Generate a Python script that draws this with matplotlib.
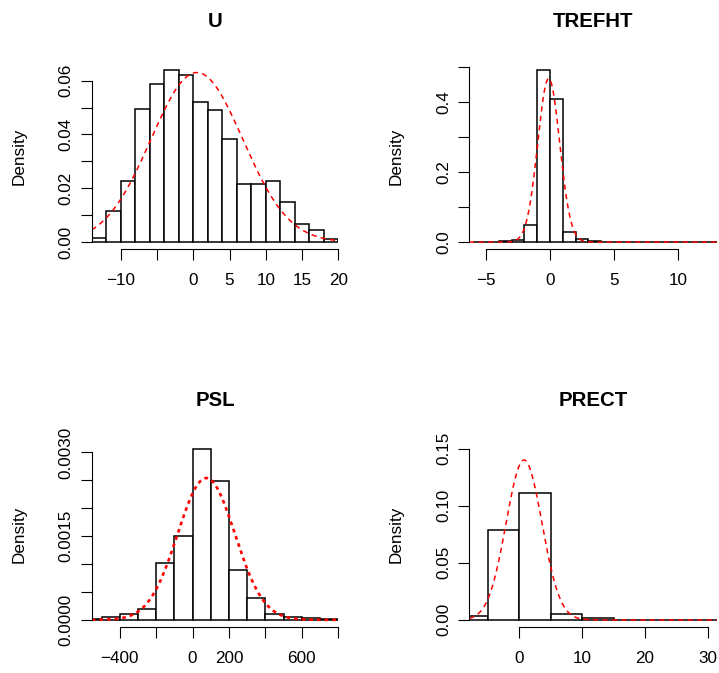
import matplotlib.pyplot as plt
import numpy as np

plt.rcParams['font.family'] = ['Liberation Sans', 'DejaVu Sans']

# histogram densities per bin, with the normal fit (mean, sd) for each variable
u_breaks = np.arange(-14, 21, 2)
u_density = [0.0017, 0.0115, 0.0226, 0.0495, 0.0589, 0.0639, 0.0620, 0.0520, 0.0490,
             0.0384, 0.0217, 0.0215, 0.0226, 0.0149, 0.0069, 0.0045, 0.0011]
u_fit = (0.5, 6.33)

trefht_breaks = np.arange(-6, 14, 1)
trefht_density = [0.0003, 0.0008, 0.0030, 0.0050, 0.0486, 0.4905, 0.4095, 0.0277, 0.0076,
                  0.0025, 0.0010, 0.0006, 0.0004, 0.0003, 0.0002, 0.0003, 0.0002, 0.0001, 0.0002]
trefht_fit = (-0.1, 0.855)

psl_breaks = np.arange(-600, 801, 100)
psl_density = [0.00002, 0.000054, 0.000096, 0.000203, 0.001027, 0.001511, 0.00307, 0.00248,
               0.000902, 0.0004, 0.000113, 0.00006, 0.000036, 0.000012]
psl_fit = (75, 157)

prect_breaks = np.arange(-10, 36, 5)
prect_density = [0.0032, 0.0784, 0.1107, 0.0047, 0.0012, 0.0003, 0.0002, 0.0001, 0.0001]
prect_fit = (0.75, 2.85)

W, H = 719, 673
fig = plt.figure(figsize=(W / 100, H / 100), dpi=100)


def px_axes(x0, x1, y0, y1):
    return fig.add_axes([x0 / W, (H - y1) / H, (x1 - x0) / W, (y1 - y0) / H])


def hist_panel(ax, title, breaks, dens, fit, xlim, ymax, xticks, xlabels, yticks, ylabels, dashed):
    ax.bar(breaks[:-1], dens, width=np.diff(breaks), align='edge',
           color='white', edgecolor='black', linewidth=1.1)
    xs = np.linspace(xlim[0], xlim[1], 500)
    mu, sd = fit
    ys = np.exp(-0.5 * ((xs - mu) / sd) ** 2) / (sd * np.sqrt(2 * np.pi))
    ax.plot(xs, ys, color='red', linewidth=dashed[0], linestyle=(0, dashed[1]))
    ax.set_xlim(xlim)
    ax.set_ylim(-0.04 * ymax, 1.04 * ymax)
    for s in ['top', 'right']:
        ax.spines[s].set_visible(False)
    ax.spines['left'].set_bounds(yticks[0], yticks[-1])
    ax.spines['bottom'].set_bounds(xticks[0], xticks[-1])
    for s in ['left', 'bottom']:
        ax.spines[s].set_linewidth(0.8)
    ax.set_xticks(xticks, xlabels)
    ax.set_yticks(yticks, ylabels, rotation=90, va='center')
    ax.tick_params(axis='both', length=7.9, width=0.8, labelsize=12.3, color='black')
    ax.tick_params(axis='x', pad=9.5)
    ax.tick_params(axis='y', pad=5)
    ax.set_title(title, fontsize=14.7, fontweight='bold', pad=26)
    ax.set_ylabel('Density', fontsize=12.3)
    w = ax.get_position().width * W
    ax.yaxis.set_label_coords(-73 / w, 0.5)
    ax.yaxis.label.set_va('center')


ax1 = px_axes(91.7, 338.3, 63.3, 249)
hist_panel(ax1, 'U', u_breaks, u_density, u_fit, (-14, 20), max(u_density),
           [-10, -5, 0, 5, 10, 15, 20], ['\u221210', '', '0', '5', '10', '15', '20'],
           [0, 0.01, 0.02, 0.03, 0.04, 0.05, 0.06],
           ['0.00', '', '0.02', '', '0.04', '', '0.06'], (1.1, (3.4, 2.8)))

ax2 = px_axes(469.3, 717.3, 63.3, 249)
hist_panel(ax2, 'TREFHT', trefht_breaks, trefht_density, trefht_fit, (-6.29, 13.04),
           max(trefht_density),
           [-5, 0, 5, 10], ['\u22125', '0', '5', '10'],
           [0, 0.1, 0.2, 0.3, 0.4, 0.5], ['0.0', '', '0.2', '', '0.4', ''], (1.1, (3.4, 2.8)))

ax3 = px_axes(91.7, 338.3, 441.7, 626.7)
hist_panel(ax3, 'PSL', psl_breaks, psl_density, psl_fit, (-554, 800), max(psl_density),
           [-400, -200, 0, 200, 400, 600, 800], ['\u2212400', '', '0', '200', '', '600', ''],
           [0, 0.0005, 0.001, 0.0015, 0.002, 0.0025, 0.003],
           ['0.0000', '', '', '0.0015', '', '', '0.0030'], (1.9, (1.4, 1.5)))

ax4 = px_axes(469.3, 717.3, 441.7, 626.7)
hist_panel(ax4, 'PRECT', prect_breaks, prect_density, prect_fit, (-7.96, 31.5), 0.15,
           [0, 10, 20, 30], ['0', '10', '20', '30'],
           [0, 0.05, 0.10, 0.15], ['0.00', '0.05', '0.10', '0.15'], (1.1, (3.4, 2.8)))

fig.savefig('out.png', dpi=100)
